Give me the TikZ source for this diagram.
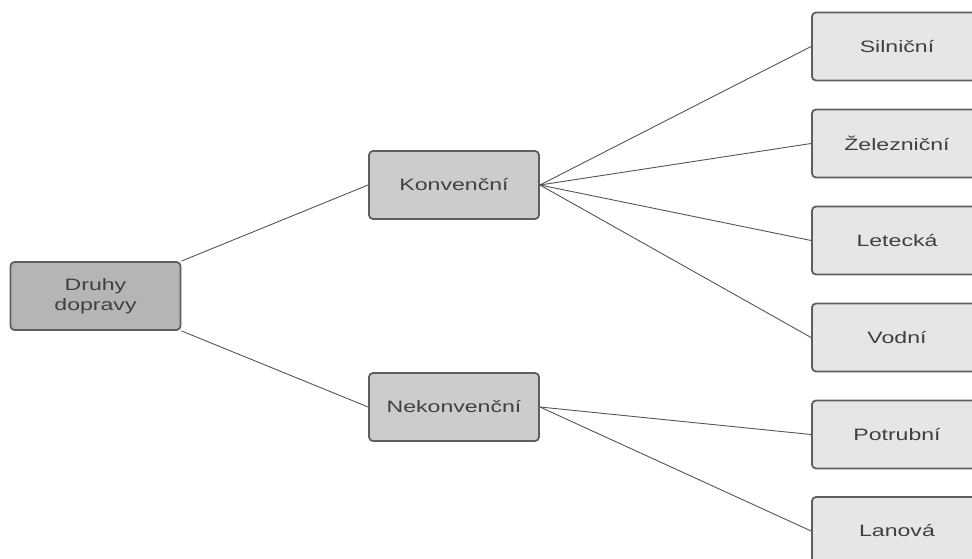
\documentclass[tikz,border=0pt]{standalone}
\usepackage{fontspec}
\newfontfamily\widesans[FakeStretch=1.4]{Liberation Sans}
\definecolor{bordc}{HTML}{5E5E5E}
\definecolor{linec}{HTML}{555555}
\definecolor{textc}{HTML}{404040}
\definecolor{rootfill}{HTML}{B5B5B5}
\definecolor{midfill}{HTML}{CCCCCC}
\definecolor{leaffill}{HTML}{E6E6E6}
\begin{document}
\begin{tikzpicture}[x=1pt,y=-1pt,
  box/.style={draw=bordc, line width=1.8pt, rounded corners=4pt,
    minimum width=170pt, minimum height=68pt, inner sep=0pt,
    text=textc, font=\widesans\fontsize{16.5}{19.5}\selectfont, align=center},
  rootbox/.style={box, fill=rootfill},
  midbox/.style={box, fill=midfill},
  leafbox/.style={box, fill=leaffill},
  conn/.style={draw=linec, line width=0.9pt}]
\useasboundingbox (0,0) rectangle (972,559);
\clip (0,0) rectangle (972,559);
\node[rootbox] (d) at (95.5,296) {Druhy\\dopravy};
\node[midbox] (k) at (454,185) {Konvenční};
\node[midbox] (n) at (454,407) {Nekonvenční};
\node[leafbox] (s) at (897,46.5) {Silniční};
\node[leafbox] (z) at (897,143.5) {Železniční};
\node[leafbox] (l) at (897,240.5) {Letecká};
\node[leafbox] (v) at (897,337.5) {Vodní};
\node[leafbox] (p) at (897,434.5) {Potrubní};
\node[leafbox] (la) at (897,531) {Lanová};
\draw[conn] (d.north east) -- (k.west);
\draw[conn] (d.south east) -- (n.west);
\draw[conn] (k.east) -- (s.west);
\draw[conn] (k.east) -- (z.west);
\draw[conn] (k.east) -- (l.west);
\draw[conn] (k.east) -- (v.west);
\draw[conn] (n.east) -- (p.west);
\draw[conn] (n.east) -- (la.west);
\end{tikzpicture}
\end{document}
